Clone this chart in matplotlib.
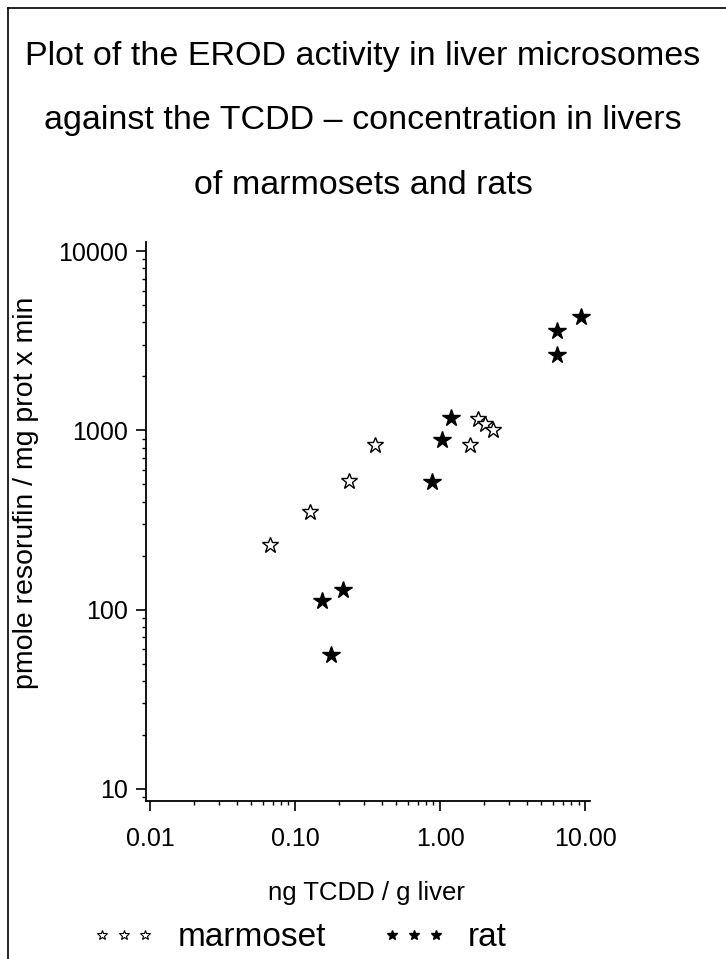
import matplotlib
matplotlib.use("Agg")
import matplotlib.pyplot as plt
from matplotlib.lines import Line2D
from matplotlib.ticker import LogLocator, FixedLocator, FixedFormatter, NullFormatter

plt.rcParams['font.family'] = ['Liberation Sans', 'DejaVu Sans']

title_lines = ["Plot of the EROD activity in liver microsomes",
               "against the TCDD \u2013 concentration in livers",
               "of marmosets and rats"]
x_label = "ng TCDD / g liver"
y_label = "pmole resorufin / mg prot x min"

marmoset_tcdd = [0.067, 0.127, 0.235, 0.356, 1.61, 1.83, 2.04, 2.32]
marmoset_erod = [230, 350, 521, 826, 826, 1150, 1080, 1010]

rat_tcdd = [1.19, 1.03, 0.88, 0.214, 0.153, 0.177, 6.41, 6.41, 9.38]
rat_erod = [1165, 880, 514, 129, 112, 56, 3590, 2640, 4300]

x_ticks = [0.01, 0.1, 1.0, 10.0]
x_ticklabels = ["0.01", "0.10", "1.00", "10.00"]
y_ticks = [10, 100, 1000, 10000]
y_ticklabels = ["10", "100", "1000", "10000"]

W, H = 726, 959
fig = plt.figure(figsize=(W / 100, H / 100), dpi=100)
ax = fig.add_axes([146 / W, 1 - 801 / H, (590 - 146) / W, (801 - 242) / H])

ax.plot(marmoset_tcdd, marmoset_erod, linestyle='none', marker='*',
        markersize=12, markerfacecolor='white', markeredgecolor='black',
        markeredgewidth=1.0, label='marmoset')
ax.plot(rat_tcdd, rat_erod, linestyle='none', marker='*',
        markersize=13, markerfacecolor='black', markeredgecolor='black',
        label='rat')

ax.set_xscale('log')
ax.set_yscale('log')
ax.set_xlim(0.00938, 10.8)
ax.set_ylim(8.57, 11230)

for s in ['top', 'right']:
    ax.spines[s].set_visible(False)
for s in ['left', 'bottom']:
    ax.spines[s].set_linewidth(1.3)

ax.xaxis.set_major_locator(FixedLocator(x_ticks))
ax.xaxis.set_major_formatter(FixedFormatter(x_ticklabels))
ax.yaxis.set_major_locator(FixedLocator(y_ticks))
ax.yaxis.set_major_formatter(FixedFormatter(y_ticklabels))
ax.xaxis.set_minor_locator(LogLocator(base=10, subs=range(2, 10)))
ax.yaxis.set_minor_locator(LogLocator(base=10, subs=range(2, 10)))
ax.xaxis.set_minor_formatter(NullFormatter())
ax.yaxis.set_minor_formatter(NullFormatter())
ax.tick_params(which='major', direction='out', length=7, width=1.2,
               labelsize=18)
ax.tick_params(axis='y', which='major', pad=6)
ax.tick_params(axis='x', which='major', pad=12)
ax.tick_params(which='minor', direction='out', length=3, width=1.0)

for i, t in enumerate(title_lines):
    fig.text(0.5, 1 - (56 + 65 * i) / H, t, ha='center', va='center', fontsize=24.5)

fig.text(366 / W, 1 - 893 / H, x_label, ha='center', va='center', fontsize=18.5)
fig.text(26 / W, 1 - 493 / H, y_label, ha='center', va='center',
         rotation=90, fontsize=20.5)

h1 = Line2D([], [], linestyle='none', marker='*', markersize=7,
            markerfacecolor='white', markeredgecolor='black', markeredgewidth=0.8)
h2 = Line2D([], [], linestyle='none', marker='*', markersize=7,
            markerfacecolor='black', markeredgecolor='black')
fig.legend([h1, h2], ['marmoset', 'rat'], loc='center left',
           bbox_to_anchor=(92 / W, 1 - 938 / H), ncol=2, numpoints=3,
           frameon=False, fontsize=24, handlelength=1.9, handletextpad=0.66,
           columnspacing=1.7, borderpad=0, borderaxespad=0)

fig.add_artist(Line2D([8 / W, 8 / W], [0, 1 - 8 / H], transform=fig.transFigure,
                      color='black', linewidth=1.2))
fig.add_artist(Line2D([8 / W, 1], [1 - 8 / H, 1 - 8 / H], transform=fig.transFigure,
                      color='black', linewidth=1.2))

fig.savefig("out.png", dpi=100)
